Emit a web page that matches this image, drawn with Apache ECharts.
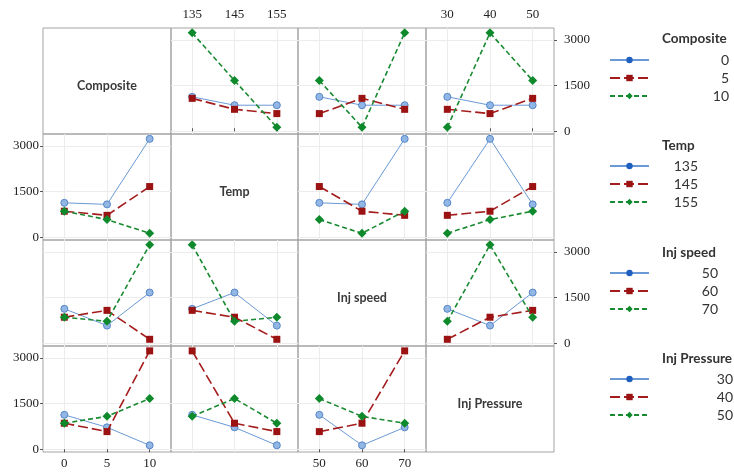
<!DOCTYPE html>
<html><head><meta charset="utf-8">
<script src="https://cdn.jsdelivr.net/npm/echarts@6/dist/echarts.min.js"></script>
<style>html,body{margin:0;padding:0;background:#fff}#c{width:734px;height:472px}</style>
</head><body><div id="c"></div>
<script>
// ---- data ----
const factorNames = ['Composite', 'Temp', 'Inj speed', 'Inj Pressure'];
const compositeLevels = [0, 5, 10];
const tempLevels = [135, 145, 155];
const speedLevels = [50, 60, 70];
const pressureLevels = [30, 40, 50];
// L9 runs (factor settings and measured response)
const runComposite = [0, 0, 0, 5, 5, 5, 10, 10, 10];
const runTemp      = [135, 145, 155, 135, 145, 155, 135, 145, 155];
const runSpeed     = [50, 60, 70, 60, 70, 50, 70, 50, 60];
const runPressure  = [30, 40, 50, 50, 30, 40, 40, 50, 30];
const runResponse  = [1130, 855, 855, 1080, 720, 580, 3230, 1665, 130];
const yTicks = [0, 1500, 3000];

// ---- layout / style ----
const yMin = -90, yMax = 3390;
const colEdges = [43, 171, 298, 426, 554];
const rowEdges = [28, 134, 240, 346, 452];
const levels = [compositeLevels, tempLevels, speedLevels, pressureLevels];
const runs = [runComposite, runTemp, runSpeed, runPressure];
const styles = [
  {symbol: 'circle', size: 7, line: {color: '#6a9ad6', width: 1, type: 'solid'},
   item: {color: '#93b7e4', borderColor: '#5585c8', borderWidth: 1}},
  {symbol: 'rect', size: 7, line: {color: '#a41c1c', width: 1.6, type: [10, 4]},
   item: {color: '#9a1212', borderColor: '#9a1212', borderWidth: 0}},
  {symbol: 'diamond', size: 9, line: {color: '#1a8a32', width: 1.6, type: [5, 3]},
   item: {color: '#0e8a2c', borderColor: '#0e8a2c', borderWidth: 0}}
];
const tickFont = {fontFamily: 'Liberation Serif', fontSize: 13, color: '#222'};
const sansFont = 'Lato';

function meanAt(r, lr, c, lc) {
  let s = 0, n = 0;
  for (let i = 0; i < runResponse.length; i++) {
    if (runs[r][i] === lr && runs[c][i] === lc) { s += runResponse[i]; n++; }
  }
  return n ? s / n : null;
}

const grids = [], xAxes = [], yAxes = [], series = [], graphics = [];
for (let r = 0; r < 4; r++) {
  for (let c = 0; c < 4; c++) {
    const gi = r * 4 + c;
    const diag = r === c;
    grids.push({left: colEdges[c], top: rowEdges[r], width: colEdges[c + 1] - colEdges[c],
      height: rowEdges[r + 1] - rowEdges[r], show: true, borderColor: '#a3a3a3', borderWidth: 1,
      backgroundColor: 'transparent', containLabel: false, outerBoundsMode: 'none'});
    const showXTop = r === 0 && (c === 1 || c === 3);
    const showXBot = r === 3 && (c === 0 || c === 2);
    const showX = showXTop || showXBot;
    const showYL = c === 0 && (r === 1 || r === 3);
    const showYR = c === 3 && (r === 0 || r === 2);
    const showY = showYL || showYR;
    xAxes.push({gridIndex: gi, type: 'category', data: levels[c].map(String), boundaryGap: true,
      position: showXTop ? 'top' : 'bottom', show: !diag,
      axisLine: {show: false},
      axisTick: {show: showX, alignWithLabel: true, length: 3, lineStyle: {color: '#555'}},
      axisLabel: Object.assign({show: showX, margin: showXTop ? 7 : 5}, tickFont),
      splitLine: {show: true, alignWithLabel: true, lineStyle: {color: '#ececec', width: 1}}});
    yAxes.push({gridIndex: gi, type: 'value', min: yMin, max: yMax, minInterval: 1500, maxInterval: 1500,
      position: showYR ? 'right' : 'left', show: !diag,
      axisLine: {show: false},
      axisTick: {show: showY, length: 3, customValues: yTicks, lineStyle: {color: '#555'}},
      axisLabel: Object.assign({show: showY, customValues: yTicks, formatter: v => String(v),
        margin: showYR ? 10 : 4}, tickFont),
      splitLine: {show: true, lineStyle: {color: '#ececec', width: 1}}});
    if (diag) {
      graphics.push({type: 'text', x: (colEdges[c] + colEdges[c + 1]) / 2,
        y: (rowEdges[r] + rowEdges[r + 1]) / 2 + 5,
        style: {text: factorNames[r], align: 'center', verticalAlign: 'middle',
          fontFamily: sansFont, fontSize: 12.5, fontWeight: 700, fill: '#3a3a3a'}});
      continue;
    }
    levels[r].forEach((lv, k) => {
      const st = styles[k];
      series.push({type: 'line', name: factorNames[r] + '|' + lv, xAxisIndex: gi, yAxisIndex: gi,
        data: levels[c].map(xv => meanAt(r, lv, c, xv)),
        symbol: st.symbol, symbolSize: st.size, showSymbol: true,
        lineStyle: st.line, itemStyle: st.item, emphasis: {disabled: true},
        animation: false, silent: true, z: 2 + k});
    });
  }
}

// legends
const legendCenters = [60, 166, 273, 379];
const legendTextW = [75, 44, 64, 79];
const titleY = [39, 146, 253, 359];
const legends = [];
for (let r = 0; r < 4; r++) {
  legends.push({orient: 'vertical', left: 609, top: legendCenters[r] - 7, padding: 0,
    itemWidth: 39, itemHeight: 8, itemGap: 4, selectedMode: false,
    data: levels[r].map((lv, k) => k === 0
      ? {name: factorNames[r] + '|' + lv, itemStyle: {color: '#1f5fbf', borderWidth: 0}}
      : {name: factorNames[r] + '|' + lv}),
    formatter: name => '{v|' + name.split('|')[1] + '}',
    textStyle: {rich: {v: {width: legendTextW[r], align: 'right', fontFamily: sansFont,
      fontSize: 14, lineHeight: 14, color: '#333'}}}});
  graphics.push({type: 'text', x: 662, y: titleY[r], style: {text: factorNames[r],
    verticalAlign: 'middle', align: 'left', fontFamily: sansFont, fontSize: 13.5, fontWeight: 700, fill: '#333'}});
}

const chart = echarts.init(document.getElementById('c'), null, {renderer: 'canvas'});
chart.setOption({
  animation: false,
  backgroundColor: '#fff',
  grid: grids, xAxis: xAxes, yAxis: yAxes, series: series,
  legend: legends, graphic: graphics
});
</script></body></html>
